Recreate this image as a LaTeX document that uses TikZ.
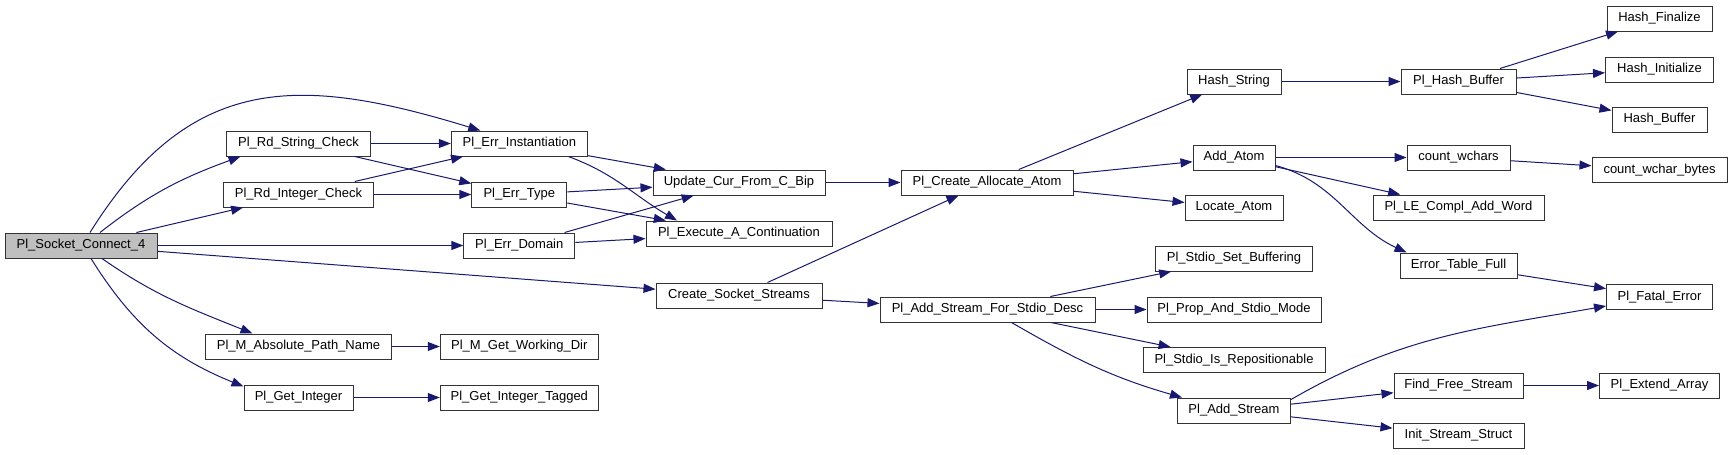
\documentclass[tikz,border=0pt]{standalone}
\usepackage{fontspec}
\setmainfont{Liberation Sans}
\usepackage{tikz}
\usetikzlibrary{arrows.meta}

\definecolor{callblue}{RGB}{25,25,112}
\definecolor{rootgray}{RGB}{191,191,191}

\begin{document}
\begin{tikzpicture}[
    x=1pt, y=1pt,
    % Function box
    fn/.style={
        rectangle, draw=black!80, line width=1pt, fill=white,
        minimum height=25pt, inner sep=0pt,
        font=\fontsize{13}{15}\selectfont
    },
    % Root function (grey)
    root/.style={fn, fill=rootgray},
    % Call edge
    call/.style={draw=callblue, line width=1pt,
        -{Triangle[length=12pt, width=9pt]}},
]

\fill[white] (0,0) rectangle (1732,-455);
\useasboundingbox (0,0) rectangle (1732,-455);

% ============================================================
% NODES
% ============================================================

% Root
\node[root, minimum width=152] (sock) at (81, -245.5) {Pl\_Socket\_Connect\_4};

% Level 1
\node[fn, minimum width=144] (rd-str)  at (298.5, -143.5) {Pl\_Rd\_String\_Check};
\node[fn, minimum width=150] (rd-int)  at (298.5, -194.5) {Pl\_Rd\_Integer\_Check};
\node[fn, minimum width=186] (m-abs)   at (298.5, -346.5) {Pl\_M\_Absolute\_Path\_Name};
\node[fn, minimum width=109] (get-int) at (298.5, -397.5) {Pl\_Get\_Integer};

% Level 2
\node[fn, minimum width=136] (err-inst) at (519.3, -143.5) {Pl\_Err\_Instantiation};
\node[fn, minimum width=95]  (err-type) at (519.3, -194.5) {Pl\_Err\_Type};
\node[fn, minimum width=111] (err-dom)  at (519.3, -245.5) {Pl\_Err\_Domain};
\node[fn, minimum width=158] (m-wd)     at (519.3, -346.5) {Pl\_M\_Get\_Working\_Dir};
\node[fn, minimum width=158] (get-intt) at (519.3, -397.5) {Pl\_Get\_Integer\_Tagged};

% Level 3
\node[fn, minimum width=172] (upd-cur)   at (739, -182.5) {Update\_Cur\_From\_C\_Bip};
\node[fn, minimum width=186] (exec-cont) at (739, -233.5) {Pl\_Execute\_A\_Continuation};
\node[fn, minimum width=166] (cr-sock)   at (739, -295.5) {Create\_Socket\_Streams};

% Level 4
\node[fn, minimum width=172] (cr-atom)  at (987, -182.5) {Pl\_Create\_Allocate\_Atom};
\node[fn, minimum width=215] (add-sfsd) at (987.5, -309.5) {Pl\_Add\_Stream\_For\_Stdio\_Desc};

% Level 5
\node[fn, minimum width=94]  (hash-str)  at (1234, -81.5)  {Hash\_String};
\node[fn, minimum width=82]  (add-atom)  at (1234, -157.5) {Add\_Atom};
\node[fn, minimum width=98]  (loc-atom)  at (1234, -207.5) {Locate\_Atom};
\node[fn, minimum width=157] (set-buf)   at (1234, -258.5) {Pl\_Stdio\_Set\_Buffering};
\node[fn, minimum width=174] (prop-mode) at (1234, -309.5) {Pl\_Prop\_And\_Stdio\_Mode};
\node[fn, minimum width=182] (is-repos)  at (1234, -360)   {Pl\_Stdio\_Is\_Repositionable};
\node[fn, minimum width=113] (add-str)   at (1234, -410.5) {Pl\_Add\_Stream};

% Level 6
\node[fn, minimum width=115] (hash-buf)  at (1458.5, -81.5)  {Pl\_Hash\_Buffer};
\node[fn, minimum width=103] (cnt-wch)   at (1458.5, -157.5) {count\_wchars};
\node[fn, minimum width=171] (le-add)    at (1458.5, -207.5) {Pl\_LE\_Compl\_Add\_Word};
\node[fn, minimum width=117] (err-tab)   at (1458.5, -265.5) {Error\_Table\_Full};
\node[fn, minimum width=129] (find-free) at (1458.5, -385.5) {Find\_Free\_Stream};
\node[fn, minimum width=131] (init-str)  at (1458.5, -435.5) {Init\_Stream\_Struct};

% Level 7
\node[fn, minimum width=105] (hash-fin)  at (1659.5, -18.5)  {Hash\_Finalize};
\node[fn, minimum width=108] (hash-init) at (1659.5, -69.5)  {Hash\_Initialize};
\node[fn, minimum width=95]  (hash-bufr) at (1659.5, -119.5) {Hash\_Buffer};
\node[fn, minimum width=135] (cnt-wcb)   at (1659.5, -170)   {count\_wchar\_bytes};
\node[fn, minimum width=106] (fatal)     at (1659.5, -297)   {Pl\_Fatal\_Error};
\node[fn, minimum width=120] (ext-arr)   at (1659.5, -385.5) {Pl\_Extend\_Array};

% ============================================================
% CALLS
% ============================================================

% From the root
\draw[call] ([xshift=9pt]sock.north) to[out=58, in=163, looseness=1.2]
    ([xshift=-39pt]err-inst.north);
\draw[call] ([xshift=19pt]sock.north) to[out=38, in=200]
    ([xshift=-58pt]rd-str.south);
\draw[call] (sock) -- (rd-int);
\draw[call] (sock) -- (err-dom);
\draw[call] (sock) -- (cr-sock);
\draw[call] ([xshift=21pt]sock.south) to[out=-35, in=158]
    ([xshift=-46pt]m-abs.north);
\draw[call] ([xshift=10pt]sock.south) to[out=-58, in=158]
    ([yshift=-2pt]get-int.north west);

% Level 1
\draw[call] (rd-str)  -- (err-inst);
\draw[call] (rd-str)  -- (err-type);
\draw[call] (rd-int)  -- (err-inst);
\draw[call] (rd-int)  -- (err-type);
\draw[call] (m-abs)   -- (m-wd);
\draw[call] (get-int) -- (get-intt);

% Level 2
\draw[call] (err-inst) -- (upd-cur);
\draw[call] ([xshift=49pt]err-inst.south) to[out=-20, in=150]
    ([xshift=-62pt]exec-cont.north);
\draw[call] (err-type) -- (upd-cur);
\draw[call] (err-type) -- (exec-cont);
\draw[call] (err-dom)  -- (upd-cur);
\draw[call] (err-dom)  -- (exec-cont);

% Level 3
\draw[call] (upd-cur) -- (cr-atom);
\draw[call] (cr-sock) -- (cr-atom);
\draw[call] (cr-sock) -- (add-sfsd);

% Level 4
\draw[call] (cr-atom)  -- (hash-str);
\draw[call] (cr-atom)  -- (add-atom);
\draw[call] (cr-atom)  -- (loc-atom);
\draw[call] (add-sfsd) -- (set-buf);
\draw[call] (add-sfsd) -- (prop-mode);
\draw[call] (add-sfsd) -- (is-repos);
\draw[call] ([xshift=24pt]add-sfsd.south) to[out=-30, in=164]
    ([xshift=5pt]add-str.north west);

% Level 5
\draw[call] (hash-str) -- (hash-buf);
\draw[call] (add-atom) -- (cnt-wch);
\draw[call] (add-atom) -- (le-add);
\draw[call] ([yshift=-8pt]add-atom.east) to[out=-15, in=155]
    ([xshift=7pt]err-tab.north west);
\draw[call] ([yshift=-2pt]add-str.north east) to[out=30, in=190]
    ([yshift=-9pt]fatal.west);
\draw[call] (add-str) -- (find-free);
\draw[call] (add-str) -- (init-str);

% Level 6
\draw[call] (hash-buf)  -- (hash-fin);
\draw[call] (hash-buf)  -- (hash-init);
\draw[call] (hash-buf)  -- (hash-bufr);
\draw[call] (cnt-wch)   -- (cnt-wcb);
\draw[call] (err-tab)   -- (fatal);
\draw[call] (find-free) -- (ext-arr);

\end{tikzpicture}
\end{document}
